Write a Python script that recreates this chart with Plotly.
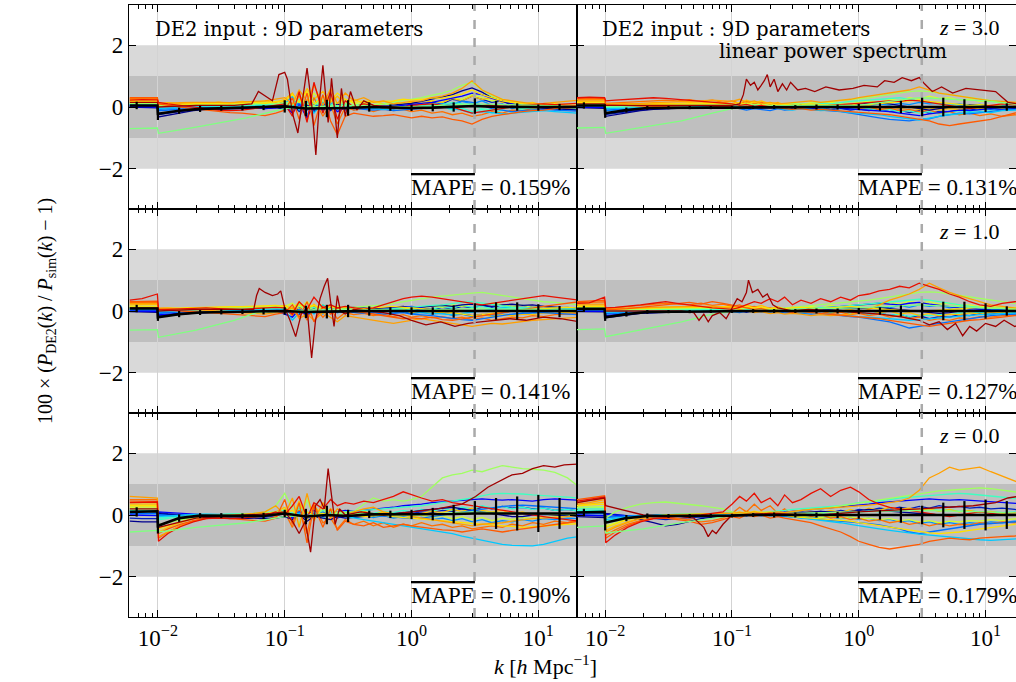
import plotly.graph_objects as go

# ------------------------------------------------------------------ data
# common k grid for the ordinary simulation curves  [h/Mpc]
K = [0.006, 0.0075, 0.0099, 0.0101, 0.012, 0.015, 0.019, 0.024, 0.03, 0.037,
     0.046, 0.057, 0.07, 0.085, 0.1, 0.115, 0.13, 0.15, 0.17, 0.2,
     0.23, 0.26, 0.3, 0.35, 0.42, 0.5, 0.6, 0.72, 0.86, 1.0,
     1.2, 1.45, 1.75, 2.1, 2.5, 3.0, 3.6, 4.3, 5.2, 6.2,
     7.5, 9.0, 11.0, 13.5, 17.0, 21.0]

# k of the mean curve / error bars
MEAN_K = [0.006, 0.0068, 0.0099, 0.01, 0.0147, 0.0215, 0.0316, 0.0464, 0.0681,
          0.1, 0.147, 0.215, 0.316, 0.464, 0.681, 1.0, 1.47, 2.15, 3.16,
          4.64, 6.81, 10.0, 14.7, 21.5]

K_CUT = 3.14  # dashed vertical line

# ---------------- top-left (z = 3.0)
TL_LINES = [
    [0.00, -0.02, -0.03, -0.32, -0.26, -0.18, -0.12, -0.08, -0.06, -0.05,
     -0.04, -0.03, -0.04, -0.02, -0.06, 0.05, -0.12, 0.08, -0.15, 0.06,
     -0.08, 0.10, -0.05, 0.02, -0.03, 0.00, 0.03, 0.05, 0.08, 0.12,
     0.18, 0.25, 0.32, 0.40, 0.52, 0.62, 0.48, 0.30, 0.18, 0.10,
     0.04, 0.00, -0.04, -0.06, -0.08, -0.10],
    [0.02, 0.01, 0.00, -0.22, -0.18, -0.12, -0.08, -0.05, -0.04, -0.03,
     -0.03, -0.02, -0.05, -0.03, 0.04, -0.20, 0.10, -0.35, 0.12, -0.10,
     0.08, -0.15, -0.02, -0.05, -0.02, 0.02, 0.04, 0.02, 0.06, 0.08,
     0.12, 0.15, 0.22, 0.30, 0.35, 0.45, 0.40, 0.28, 0.20, 0.12,
     0.08, 0.05, 0.02, 0.00, 0.03, 0.05],
    [0.05, 0.06, 0.05, -0.12, -0.10, -0.06, -0.03, -0.02, -0.02, -0.01,
     0.00, 0.01, 0.00, 0.02, 0.05, -0.08, 0.12, -0.10, 0.05, 0.08,
     -0.06, 0.04, 0.00, -0.04, -0.08, -0.10, -0.08, -0.12, -0.10, -0.08,
     -0.05, -0.02, 0.05, 0.10, 0.20, 0.15, 0.05, -0.05, -0.10, -0.15,
     -0.12, -0.10, -0.08, -0.10, -0.12, -0.14],
    [0.08, 0.08, 0.07, -0.05, -0.03, 0.00, 0.02, 0.02, 0.01, 0.00,
     0.02, 0.04, 0.02, 0.05, 0.10, 0.35, -0.10, 0.20, -0.20, 0.15,
     0.05, -0.05, 0.10, 0.02, -0.02, -0.05, -0.08, -0.06, -0.04, -0.02,
     0.00, 0.05, 0.02, -0.05, -0.10, -0.20, -0.15, -0.18, -0.22, -0.20,
     -0.18, -0.15, -0.12, -0.15, -0.18, -0.20],
    [0.10, 0.10, 0.10, 0.02, 0.03, 0.04, 0.05, 0.04, 0.03, 0.04,
     0.05, 0.06, 0.08, 0.10, 0.12, 0.05, 0.18, -0.05, 0.15, 0.00,
     0.10, 0.02, 0.05, 0.00, 0.02, 0.04, 0.00, -0.04, -0.02, 0.00,
     0.05, 0.10, 0.08, 0.15, 0.10, 0.05, -0.05, -0.10, -0.05, 0.00,
     -0.05, -0.02, 0.00, 0.02, 0.00, -0.02],
    [0.12, 0.13, 0.12, 0.05, 0.06, 0.07, 0.08, 0.08, 0.07, 0.06,
     0.08, 0.10, 0.12, 0.10, 0.15, 0.08, 0.20, 0.10, 0.05, 0.25,
     0.00, 0.15, 0.10, 0.05, 0.08, 0.05, 0.10, 0.15, 0.20, 0.25,
     0.30, 0.38, 0.45, 0.55, 0.70, 0.80, 0.55, 0.35, 0.25, 0.15,
     0.10, 0.08, 0.05, 0.02, 0.00, -0.05],
    [0.18, 0.18, 0.17, 0.08, 0.08, 0.10, 0.10, 0.12, 0.10, 0.12,
     0.14, 0.15, 0.12, 0.18, 0.20, 0.40, 0.15, 0.50, 0.10, 0.35,
     0.20, 0.45, 0.25, 0.15, 0.20, 0.15, 0.18, 0.20, 0.25, 0.22,
     0.25, 0.30, 0.28, 0.35, 0.42, 0.55, 0.40, 0.30, 0.20, 0.15,
     0.10, 0.12, 0.08, 0.10, 0.08, 0.05],
    [0.25, 0.26, 0.25, 0.12, 0.12, 0.14, 0.15, 0.16, 0.15, 0.14,
     0.15, 0.18, 0.20, 0.25, 0.30, 0.10, 0.55, 0.20, 0.70, 0.05,
     0.60, 0.10, 0.45, 0.20, 0.30, 0.15, 0.20, 0.10, 0.15, 0.18,
     0.20, 0.30, 0.35, 0.45, 0.60, 0.85, 0.55, 0.40, 0.25, 0.20,
     0.15, 0.10, 0.12, 0.15, 0.20, 0.22],
    [0.30, 0.31, 0.30, 0.10, 0.05, 0.00, -0.05, -0.10, -0.15, -0.18,
     -0.20, -0.25, -0.28, -0.20, -0.10, 0.30, -0.40, 0.45, -0.60, 0.40,
     -0.45, -0.90, -0.30, -0.20, -0.25, -0.30, -0.28, -0.25, -0.30, -0.35,
     -0.30, -0.35, -0.32, -0.40, -0.45, -0.55, -0.40, -0.30, -0.25, -0.20,
     -0.15, -0.12, -0.10, -0.05, 0.00, 0.05],
    [0.22, 0.24, 0.23, 0.15, 0.10, 0.05, 0.00, -0.05, -0.10, -0.12,
     -0.10, -0.05, 0.00, 0.05, 0.10, -0.30, 0.50, -0.50, 0.80, -0.20,
     0.50, -0.40, 0.20, 0.00, 0.10, 0.05, 0.00, -0.05, 0.00, 0.05,
     0.08, 0.10, 0.05, 0.00, -0.10, -0.20, -0.15, -0.10, -0.05, 0.00,
     0.05, 0.08, 0.10, 0.08, 0.10, 0.12],
]
TL_EXTRA = [
    [0.03, 0.02, 0.02, -0.25, -0.20, -0.14, -0.10, -0.06, -0.08, -0.04,
     -0.06, -0.02, -0.05, 0.00, -0.08, 0.10, -0.15, 0.12, -0.10, 0.15,
     -0.12, 0.05, -0.10, 0.02, -0.06, 0.03, -0.04, 0.06, 0.00, 0.10,
     0.05, 0.15, 0.10, 0.25, 0.20, 0.35, 0.25, 0.15, 0.20, 0.05,
     0.10, -0.02, 0.05, -0.05, 0.02, -0.04],
    [0.06, 0.05, 0.06, -0.08, -0.05, -0.07, -0.02, -0.04, 0.00, -0.03,
     0.02, -0.02, 0.03, -0.01, 0.08, -0.15, 0.20, -0.25, 0.10, -0.12,
     0.15, -0.08, 0.06, -0.10, 0.00, -0.06, 0.04, -0.08, 0.02, -0.05,
     0.05, -0.02, 0.12, 0.05, 0.18, 0.10, 0.20, 0.05, 0.10, -0.05,
     0.02, -0.06, 0.00, -0.08, -0.02, -0.06],
    [0.09, 0.10, 0.08, -0.02, 0.02, -0.01, 0.04, 0.01, 0.05, 0.02,
     0.06, 0.03, 0.08, 0.04, 0.15, 0.00, 0.25, 0.05, 0.30, -0.05,
     0.20, 0.00, 0.12, 0.04, 0.10, 0.02, 0.08, 0.00, 0.06, -0.04,
     0.04, -0.06, 0.02, -0.10, -0.04, -0.15, -0.08, -0.20, -0.10, -0.15,
     -0.05, -0.10, 0.00, -0.06, 0.02, -0.04],
    [0.15, 0.14, 0.15, 0.06, 0.10, 0.05, 0.10, 0.06, 0.12, 0.08,
     0.12, 0.08, 0.15, 0.10, 0.22, 0.05, 0.35, 0.10, 0.45, 0.15,
     0.30, 0.05, 0.25, 0.10, 0.15, 0.08, 0.12, 0.05, 0.10, 0.15,
     0.10, 0.20, 0.15, 0.30, 0.25, 0.40, 0.30, 0.20, 0.25, 0.10,
     0.15, 0.05, 0.10, 0.02, 0.06, 0.00],
    [0.20, 0.21, 0.20, 0.10, 0.14, 0.09, 0.13, 0.10, 0.16, 0.12,
     0.18, 0.14, 0.20, 0.15, 0.25, 0.45, 0.10, 0.60, 0.25, 0.50,
     0.15, 0.35, 0.10, 0.25, 0.12, 0.20, 0.10, 0.18, 0.08, 0.15,
     0.12, 0.20, 0.15, 0.28, 0.20, 0.35, 0.25, 0.30, 0.15, 0.20,
     0.10, 0.15, 0.05, 0.10, 0.02, 0.06],
    [0.28, 0.28, 0.27, 0.12, 0.08, 0.10, 0.05, 0.08, 0.02, 0.05,
     0.00, 0.04, -0.02, 0.05, 0.20, -0.20, 0.40, -0.45, 0.30, -0.30,
     0.10, -0.55, 0.00, -0.10, -0.05, -0.15, -0.05, -0.12, -0.08, -0.15,
     -0.10, -0.20, -0.15, -0.25, -0.20, -0.30, -0.25, -0.15, -0.20, -0.10,
     -0.12, -0.05, -0.08, 0.00, -0.04, 0.02],
]
TL_GREEN_K = [0.006, 0.0099, 0.0101, 0.02, 0.05, 0.1, 0.15, 0.3, 1.0, 3.0, 10.0, 21.0]
TL_GREEN = [-0.70, -0.68, -0.85, -0.65, -0.35, -0.05, 0.00, 0.05, 0.00, 0.10, 0.05, 0.00]
TL_DRED_K = [0.006, 0.0099, 0.0101, 0.02, 0.04, 0.055, 0.062, 0.07, 0.08, 0.09,
             0.1, 0.105, 0.115, 0.127, 0.138, 0.15, 0.163, 0.176, 0.188, 0.2,
             0.21, 0.22, 0.234, 0.247, 0.26, 0.28, 0.3, 0.33, 0.37, 0.42,
             0.5, 0.7, 1.0, 2.0, 4.0, 8.0, 21.0]
TL_DRED = [0.15, 0.15, 0.00, 0.05, 0.05, 0.10, 0.50, 0.35, 0.20, 1.05,
           1.12, 0.90, -0.20, -0.84, 0.20, 1.26, 0.10, -1.55, 0.20, 1.35,
           0.40, -0.50, 0.93, -0.20, -1.00, 0.60, -0.30, 0.50, -0.10, 0.20,
           0.05, 0.00, -0.05, 0.00, 0.05, 0.00, 0.02]
TL_MEAN = [0.05, 0.05, 0.05, -0.22, -0.12, -0.06, -0.04, -0.03, -0.02, 0.02,
           -0.05, -0.05, -0.03, 0.00, -0.02, -0.03, -0.02, 0.00, 0.03, 0.00,
           0.00, -0.02, 0.00, 0.00]
TL_SD = [0.0, 0.12, 0.0, 0.20, 0.10, 0.10, 0.08, 0.08, 0.08, 0.20,
         0.25, 0.28, 0.25, 0.15, 0.10, 0.10, 0.12, 0.15, 0.25, 0.20,
         0.12, 0.10, 0.10, 0.10]

# ---------------- middle-left (z = 1.0)
ML_LINES = [
    [-0.02, -0.03, -0.04, -0.18, -0.15, -0.10, -0.07, -0.05, -0.04, -0.03,
     -0.02, -0.02, -0.03, -0.02, -0.05, 0.05, -0.10, 0.08, -0.05, 0.10,
     0.05, 0.08, 0.10, 0.12, 0.10, 0.08, 0.10, 0.12, 0.15, 0.10,
     0.12, 0.15, 0.18, 0.15, 0.20, 0.22, 0.18, 0.15, 0.20, 0.22,
     0.18, 0.20, 0.15, 0.12, 0.10, 0.10],
    [0.00, 0.00, -0.01, -0.12, -0.10, -0.07, -0.05, -0.03, -0.02, -0.02,
     -0.01, 0.00, -0.02, 0.00, -0.10, -0.20, 0.05, -0.15, 0.10, -0.05,
     0.10, 0.00, -0.05, 0.05, 0.02, -0.02, 0.05, 0.10, 0.12, 0.15,
     0.10, 0.05, 0.00, -0.05, -0.10, -0.15, -0.12, -0.10, -0.05, 0.00,
     0.05, 0.08, 0.05, 0.02, 0.00, -0.02],
    [0.04, 0.05, 0.04, -0.08, -0.05, -0.03, -0.01, 0.00, 0.00, 0.01,
     0.02, 0.02, 0.01, 0.03, 0.00, -0.05, 0.05, -0.08, 0.00, 0.08,
     -0.05, 0.02, -0.02, -0.05, -0.08, -0.05, -0.10, -0.08, -0.05, -0.10,
     -0.12, -0.15, -0.20, -0.25, -0.28, -0.30, -0.25, -0.20, -0.15, -0.10,
     -0.08, -0.05, -0.05, -0.08, -0.10, -0.12],
    [0.07, 0.07, 0.06, -0.02, 0.00, 0.02, 0.03, 0.03, 0.02, 0.02,
     0.03, 0.04, 0.05, 0.08, 0.02, -0.30, -0.05, 0.15, -0.10, 0.20,
     0.00, 0.10, 0.05, 0.00, -0.02, 0.00, 0.03, 0.05, 0.02, 0.00,
     -0.05, -0.08, -0.10, -0.12, -0.08, -0.05, 0.00, 0.05, 0.10, 0.12,
     0.10, 0.08, 0.05, 0.05, 0.08, 0.10],
    [0.10, 0.10, 0.09, 0.02, 0.03, 0.04, 0.05, 0.05, 0.05, 0.06,
     0.06, 0.07, 0.08, 0.08, 0.10, 0.00, 0.20, 0.05, 0.12, -0.05,
     0.08, 0.02, 0.05, 0.03, 0.00, 0.02, 0.05, 0.08, 0.10, 0.12,
     0.15, 0.18, 0.20, 0.25, 0.28, 0.30, 0.25, 0.20, 0.15, 0.12,
     0.10, 0.08, 0.06, 0.05, 0.05, 0.04],
    [0.14, 0.14, 0.13, 0.05, 0.06, 0.07, 0.08, 0.09, 0.10, 0.10,
     0.10, 0.12, 0.12, 0.15, 0.12, 0.05, 0.15, 0.10, 0.05, 0.10,
     0.05, 0.08, 0.10, 0.12, 0.15, 0.18, 0.20, 0.25, 0.30, 0.35,
     0.40, 0.45, 0.48, 0.52, 0.55, 0.58, 0.60, 0.55, 0.50, 0.45,
     0.40, 0.35, 0.30, 0.28, 0.25, 0.20],
    [0.16, 0.16, 0.16, 0.08, 0.09, 0.10, 0.12, 0.12, 0.13, 0.14,
     0.14, 0.15, 0.16, 0.18, 0.15, 0.10, 0.20, 0.12, 0.18, 0.08,
     0.15, 0.10, 0.12, 0.10, 0.08, 0.10, 0.12, 0.15, 0.12, 0.10,
     0.08, 0.05, 0.00, -0.05, -0.10, -0.15, -0.12, -0.08, -0.05, 0.00,
     0.02, 0.05, 0.08, 0.10, 0.12, 0.10],
    [0.24, 0.25, 0.24, 0.10, 0.08, 0.06, 0.04, 0.02, 0.00, -0.02,
     -0.05, -0.08, -0.10, -0.05, 0.00, 0.10, -0.25, -0.10, -0.30, -0.05,
     -0.20, -0.35, -0.15, -0.20, -0.25, -0.30, -0.35, -0.40, -0.35, -0.30,
     -0.25, -0.30, -0.35, -0.40, -0.45, -0.50, -0.45, -0.40, -0.42, -0.38,
     -0.35, -0.30, -0.28, -0.25, -0.22, -0.20],
    [0.30, 0.31, 0.32, 0.05, 0.02, 0.00, -0.02, -0.05, -0.08, -0.10,
     -0.12, -0.15, -0.18, -0.10, -0.05, 0.20, -0.20, 0.30, -0.35, 0.15,
     -0.10, 0.10, -0.05, 0.00, -0.05, -0.10, -0.15, -0.20, -0.25, -0.22,
     -0.25, -0.20, -0.28, -0.30, -0.25, -0.20, -0.15, -0.10, -0.05, 0.00,
     0.05, 0.10, 0.15, 0.20, 0.25, 0.30],
    [0.35, 0.40, 0.55, 0.05, 0.05, 0.06, 0.08, 0.10, 0.08, 0.06,
     0.05, 0.08, 0.10, 0.12, 0.10, -0.10, 0.30, 0.05, 0.45, 0.10,
     0.20, 0.10, 0.15, 0.10, 0.05, 0.10, 0.20, 0.30, 0.40, 0.45,
     0.48, 0.45, 0.40, 0.35, 0.30, 0.25, 0.20, 0.25, 0.30, 0.35,
     0.40, 0.45, 0.50, 0.45, 0.40, 0.35],
]
ML_EXTRA = [
    [0.02, 0.01, 0.02, -0.15, -0.12, -0.09, -0.06, -0.05, -0.02, -0.03,
     0.00, -0.02, 0.01, -0.03, 0.05, -0.12, 0.10, -0.08, 0.12, -0.06,
     0.08, -0.04, 0.06, 0.00, 0.05, -0.02, 0.04, 0.00, 0.06, 0.02,
     0.08, 0.04, 0.12, 0.06, 0.15, 0.10, 0.18, 0.12, 0.20, 0.15,
     0.18, 0.12, 0.15, 0.10, 0.12, 0.08],
    [0.06, 0.05, 0.06, -0.05, -0.04, -0.02, -0.03, 0.00, -0.02, 0.01,
     -0.01, 0.02, 0.00, 0.03, 0.08, -0.05, 0.15, -0.20, 0.05, -0.10,
     0.06, -0.06, 0.02, -0.04, 0.00, -0.05, 0.02, -0.06, -0.02, -0.08,
     -0.04, -0.10, -0.06, -0.14, -0.10, -0.18, -0.12, -0.16, -0.10, -0.12,
     -0.06, -0.10, -0.04, -0.08, -0.02, -0.06],
    [0.09, 0.09, 0.08, 0.00, 0.02, 0.03, 0.02, 0.05, 0.03, 0.06,
     0.04, 0.07, 0.05, 0.09, 0.12, 0.02, 0.25, 0.06, 0.18, 0.00,
     0.10, 0.04, 0.08, 0.02, 0.06, 0.00, 0.05, 0.02, 0.08, 0.04,
     0.10, 0.06, 0.14, 0.10, 0.18, 0.12, 0.15, 0.08, 0.10, 0.05,
     0.06, 0.02, 0.05, 0.00, 0.03, -0.02],
    [0.13, 0.12, 0.12, 0.04, 0.07, 0.06, 0.09, 0.07, 0.10, 0.09,
     0.11, 0.09, 0.13, 0.10, 0.15, 0.25, 0.05, 0.30, 0.10, 0.20,
     0.05, 0.15, 0.08, 0.12, 0.06, 0.10, 0.05, 0.10, 0.06, 0.12,
     0.10, 0.16, 0.12, 0.20, 0.15, 0.22, 0.18, 0.25, 0.20, 0.15,
     0.18, 0.12, 0.15, 0.10, 0.12, 0.08],
    [0.20, 0.21, 0.22, 0.08, 0.10, 0.08, 0.11, 0.09, 0.12, 0.10,
     0.13, 0.10, 0.14, 0.12, 0.18, 0.05, 0.30, 0.00, 0.22, -0.05,
     0.15, 0.00, 0.10, 0.02, 0.08, 0.00, 0.05, -0.02, 0.04, -0.05,
     0.00, -0.08, -0.04, -0.12, -0.08, -0.15, -0.10, -0.18, -0.12, -0.15,
     -0.10, -0.12, -0.06, -0.08, -0.04, -0.06],
    [0.27, 0.28, 0.28, 0.06, 0.03, 0.05, 0.00, 0.02, -0.03, 0.00,
     -0.05, -0.02, -0.06, 0.00, 0.10, -0.15, 0.20, -0.30, 0.15, -0.20,
     0.05, -0.25, -0.05, -0.12, -0.08, -0.15, -0.10, -0.18, -0.12, -0.20,
     -0.15, -0.22, -0.18, -0.25, -0.20, -0.28, -0.22, -0.30, -0.25, -0.20,
     -0.22, -0.15, -0.18, -0.12, -0.10, -0.08],
]
ML_GREEN_K = [0.006, 0.0099, 0.0101, 0.02, 0.04, 0.06, 0.1, 0.3, 1.0, 3.0, 10.0, 21.0]
ML_GREEN = [-0.62, -0.60, -0.85, -0.62, -0.30, -0.05, 0.00, 0.05, 0.02, 0.08, 0.05, 0.00]
ML_DRED_K = [0.006, 0.0099, 0.0101, 0.02, 0.04, 0.057, 0.06, 0.063, 0.07, 0.08,
             0.088, 0.093, 0.1, 0.11, 0.122, 0.135, 0.15, 0.163, 0.175, 0.19,
             0.205, 0.218, 0.23, 0.245, 0.26, 0.275, 0.3, 0.35, 0.45, 0.6,
             0.8, 1.0, 1.3, 1.7, 2.2, 2.8, 3.5, 4.5, 6.0, 8.0,
             11.0, 15.0, 21.0]
ML_DRED = [0.10, 0.10, 0.00, 0.05, 0.05, 0.05, 0.50, 0.73, 0.60, 0.50,
           0.55, 0.65, 0.10, -0.30, -0.83, -0.10, 0.10, -1.52, -0.30, 0.40,
           0.80, 1.06, 0.30, -0.50, 0.50, 0.00, -0.10, 0.05, 0.00, -0.05,
           -0.15, -0.30, -0.45, -0.35, -0.50, -0.40, -0.35, -0.30, -0.25, -0.30,
           -0.20, -0.25, -0.35]
ML_MEAN = [0.08, 0.08, 0.08, -0.20, -0.10, -0.05, -0.03, -0.02, -0.01, 0.00,
           -0.03, -0.02, 0.00, 0.00, 0.00, 0.00, 0.00, -0.02, 0.00, 0.00,
           0.00, 0.00, -0.02, 0.00]
ML_SD = [0.0, 0.12, 0.0, 0.12, 0.10, 0.08, 0.08, 0.08, 0.10, 0.12,
         0.20, 0.22, 0.20, 0.15, 0.12, 0.12, 0.12, 0.20, 0.25, 0.28,
         0.28, 0.22, 0.18, 0.12]

# ---------------- bottom-left (z = 0.0)
BL_LINES = [
    [-0.20, -0.22, -0.22, 0.05, 0.02, -0.02, -0.05, -0.08, -0.10, -0.12,
     -0.12, -0.10, -0.12, -0.10, -0.05, -0.15, 0.00, -0.20, -0.05, -0.10,
     -0.15, -0.05, -0.10, -0.08, -0.05, 0.00, 0.02, 0.05, 0.08, 0.10,
     0.15, 0.18, 0.22, 0.25, 0.20, 0.15, 0.10, 0.05, 0.00, -0.05,
     -0.05, 0.00, 0.02, 0.00, -0.02, -0.05],
    [0.00, 0.00, -0.02, 0.10, 0.08, 0.05, 0.02, 0.00, -0.02, -0.03,
     -0.02, 0.00, 0.02, 0.00, 0.05, -0.10, 0.10, 0.00, 0.15, -0.05,
     0.05, 0.10, 0.15, 0.12, 0.15, 0.18, 0.20, 0.25, 0.30, 0.32,
     0.35, 0.40, 0.42, 0.45, 0.48, 0.50, 0.52, 0.50, 0.48, 0.50,
     0.48, 0.45, 0.50, 0.52, 0.50, 0.48],
    [0.05, 0.06, 0.05, 0.00, -0.02, -0.03, -0.05, -0.05, -0.04, -0.03,
     -0.02, -0.03, -0.05, 0.00, 0.05, -0.05, 0.10, -0.10, 0.05, 0.10,
     -0.05, 0.05, 0.00, 0.05, 0.02, 0.00, -0.05, -0.08, -0.10, -0.12,
     -0.10, -0.05, 0.00, 0.05, 0.10, 0.15, 0.20, 0.25, 0.28, 0.30,
     0.32, 0.30, 0.28, 0.25, 0.22, 0.20],
    [0.10, 0.10, 0.10, -0.05, -0.03, 0.00, 0.02, 0.03, 0.02, 0.00,
     0.00, 0.02, 0.05, 0.08, 0.10, 0.00, 0.05, -0.05, 0.10, 0.00,
     0.05, 0.00, -0.05, -0.10, -0.15, -0.20, -0.25, -0.30, -0.35, -0.40,
     -0.45, -0.50, -0.55, -0.60, -0.68, -0.75, -0.82, -0.90, -0.95, -0.98,
     -1.00, -1.00, -0.95, -0.85, -0.75, -0.70],
    [0.15, 0.15, 0.14, -0.15, -0.10, -0.05, -0.02, 0.00, 0.02, 0.03,
     0.04, 0.05, 0.08, 0.10, 0.15, 0.05, 0.20, 0.10, 0.00, 0.15,
     0.10, 0.05, 0.10, 0.12, 0.15, 0.18, 0.20, 0.22, 0.25, 0.28,
     0.30, 0.35, 0.40, 0.45, 0.50, 0.55, 0.62, 0.68, 0.70, 0.70,
     0.68, 0.65, 0.62, 0.60, 0.58, 0.55],
    [0.20, 0.20, 0.20, -0.30, -0.25, -0.15, -0.10, -0.05, -0.02, 0.00,
     0.02, 0.05, 0.10, 0.30, 0.70, 0.20, -0.30, 0.50, -0.10, 0.20,
     0.00, 0.10, 0.05, 0.10, 0.35, 0.55, 0.45, 0.50, 0.45, 0.50,
     0.60, 0.90, 1.20, 1.30, 1.35, 1.45, 1.40, 1.50, 1.60, 1.55,
     1.50, 1.48, 1.45, 1.38, 1.20, 0.90],
    [0.30, 0.30, 0.30, -0.45, -0.35, -0.22, -0.12, -0.06, -0.03, -0.02,
     0.00, 0.02, 0.05, 0.10, 0.05, 0.15, -0.05, 0.10, 0.00, 0.05,
     0.00, 0.05, 0.02, 0.00, -0.05, -0.02, 0.00, -0.05, -0.08, -0.10,
     -0.12, -0.15, -0.18, -0.22, -0.25, -0.28, -0.30, -0.32, -0.35, -0.38,
     -0.40, -0.38, -0.35, -0.32, -0.30, -0.28],
    [0.60, 0.58, 0.55, -0.70, -0.55, -0.35, -0.20, -0.10, -0.05, -0.02,
     0.00, 0.05, 0.10, 0.30, 0.00, 0.55, -0.40, 0.70, -0.20, 0.40,
     -0.10, 0.20, 0.05, 0.10, 0.20, 0.25, 0.10, 0.05, 0.00, -0.05,
     -0.10, -0.15, -0.20, -0.25, -0.30, -0.35, -0.30, -0.28, -0.25, -0.20,
     -0.15, -0.12, -0.10, -0.08, -0.05, 0.00],
    [0.45, 0.45, 0.44, -0.60, -0.45, -0.30, -0.18, -0.10, -0.08, -0.12,
     -0.15, -0.18, -0.20, -0.10, 0.50, -0.30, 0.40, -0.90, 0.30, -0.40,
     0.20, -0.50, -0.20, -0.30, -0.35, -0.25, -0.40, -0.35, -0.30, -0.35,
     -0.40, -0.45, -0.48, -0.50, -0.55, -0.50, -0.45, -0.50, -0.55, -0.50,
     -0.45, -0.40, -0.35, -0.30, -0.25, -0.20],
    [0.40, 0.40, 0.42, -0.85, -0.60, -0.38, -0.22, -0.12, -0.10, -0.12,
     -0.10, -0.05, 0.00, 0.10, 0.00, 0.30, 0.60, -0.10, 0.40, 0.20,
     0.50, 0.30, 0.40, 0.35, 0.45, 0.40, 0.50, 0.60, 0.75, 0.65,
     0.55, 0.45, 0.50, 0.40, 0.35, 0.30, 0.25, 0.20, 0.15, 0.10,
     0.05, 0.00, -0.05, -0.10, -0.15, -0.20],
]
BL_EXTRA = [
    [-0.10, -0.12, -0.12, 0.08, 0.04, 0.00, -0.02, -0.04, -0.06, -0.05,
     -0.08, -0.04, -0.07, -0.02, 0.05, -0.10, 0.10, -0.15, 0.08, -0.08,
     0.05, -0.10, 0.00, -0.06, 0.02, -0.04, 0.05, 0.00, 0.08, 0.05,
     0.10, 0.08, 0.15, 0.12, 0.20, 0.15, 0.25, 0.20, 0.28, 0.22,
     0.25, 0.20, 0.22, 0.15, 0.18, 0.12],
    [0.04, 0.05, 0.04, 0.02, 0.00, -0.02, -0.01, -0.03, 0.00, -0.02,
     0.01, -0.01, 0.03, 0.00, 0.10, -0.08, 0.20, -0.15, 0.12, -0.05,
     0.08, -0.08, 0.04, -0.05, 0.00, -0.08, -0.02, -0.10, -0.05, -0.12,
     -0.08, -0.15, -0.10, -0.18, -0.12, -0.22, -0.15, -0.25, -0.18, -0.22,
     -0.15, -0.20, -0.12, -0.15, -0.10, -0.12],
    [0.12, 0.12, 0.12, -0.10, -0.06, -0.03, 0.00, 0.02, 0.00, 0.03,
     0.02, 0.05, 0.03, 0.08, 0.15, 0.00, 0.30, 0.05, 0.20, -0.10,
     0.10, 0.00, 0.08, 0.02, 0.10, 0.05, 0.12, 0.08, 0.15, 0.10,
     0.18, 0.12, 0.22, 0.15, 0.25, 0.20, 0.30, 0.22, 0.28, 0.20,
     0.25, 0.18, 0.22, 0.15, 0.18, 0.12],
    [0.25, 0.25, 0.26, -0.35, -0.25, -0.15, -0.08, -0.04, 0.00, -0.02,
     0.02, 0.00, 0.05, 0.02, 0.20, -0.05, 0.40, 0.00, 0.25, 0.05,
     0.15, 0.00, 0.10, 0.02, 0.08, 0.00, 0.05, -0.03, 0.02, -0.05,
     0.00, -0.08, -0.02, -0.12, -0.05, -0.15, -0.08, -0.18, -0.10, -0.15,
     -0.08, -0.12, -0.05, -0.08, -0.02, -0.05],
    [0.35, 0.35, 0.36, -0.55, -0.40, -0.25, -0.12, -0.05, -0.02, 0.00,
     0.03, 0.00, 0.06, 0.10, 0.25, -0.10, 0.45, -0.20, 0.30, -0.05,
     0.20, 0.05, 0.15, 0.05, 0.12, 0.02, 0.10, 0.00, 0.08, 0.02,
     0.05, 0.12, 0.08, 0.18, 0.12, 0.22, 0.15, 0.10, 0.15, 0.05,
     0.10, 0.02, 0.05, -0.02, 0.02, -0.04],
    [0.50, 0.50, 0.50, -0.75, -0.55, -0.35, -0.20, -0.12, -0.08, -0.10,
     -0.12, -0.08, -0.15, -0.05, 0.10, -0.40, 0.20, -0.60, 0.35, -0.25,
     -0.10, -0.45, -0.15, -0.30, -0.20, -0.35, -0.25, -0.40, -0.30, -0.35,
     -0.25, -0.35, -0.30, -0.40, -0.35, -0.45, -0.40, -0.35, -0.40, -0.30,
     -0.35, -0.25, -0.30, -0.20, -0.25, -0.15],
]
BL_GREEN_K = [0.006, 0.0099, 0.0101, 0.02, 0.05, 0.1, 0.3, 1.0, 3.0, 10.0, 21.0]
BL_GREEN = [-0.55, -0.50, -0.55, -0.40, -0.25, -0.05, 0.05, 0.00, 0.10, 0.05, 0.00]
BL_DRED_K = [0.006, 0.0099, 0.0101, 0.02, 0.05, 0.08, 0.1, 0.115, 0.13, 0.145,
             0.16, 0.175, 0.19, 0.205, 0.22, 0.235, 0.25, 0.27, 0.3, 0.4,
             0.6, 1.0, 1.6, 2.5, 3.2, 4.0, 5.0, 6.2, 7.5, 9.0,
             11.0, 13.5, 16.0, 21.0]
BL_DRED = [0.20, 0.20, -0.40, -0.10, 0.00, 0.05, 0.10, -0.20, -0.60, -0.20,
           -1.20, 0.30, 0.50, 0.20, 1.50, 0.50, -0.30, 0.20, 0.00, 0.10,
           0.00, 0.10, 0.20, 0.35, 0.60, 0.90, 1.10, 1.30, 1.35, 1.50,
           1.60, 1.55, 1.62, 1.65]
BL_MEAN = [0.10, 0.10, 0.12, -0.35, -0.10, -0.02, -0.02, -0.03, -0.03, 0.05,
           -0.05, 0.00, -0.03, 0.02, 0.02, 0.02, 0.03, 0.03, 0.05, 0.05,
           0.05, 0.05, 0.05, 0.05]
BL_SD = [0.0, 0.15, 0.0, 0.25, 0.12, 0.08, 0.08, 0.08, 0.10, 0.12,
         0.25, 0.30, 0.20, 0.12, 0.12, 0.15, 0.20, 0.30, 0.40, 0.50,
         0.55, 0.60, 0.50, 0.40]

# ---------------- top-right (linear, z = 3.0)
TR_LINES = [
    [-0.02, -0.03, -0.04, -0.30, -0.25, -0.18, -0.12, -0.08, -0.05, -0.04,
     -0.03, -0.02, -0.02, -0.02, -0.03, -0.02, -0.04, -0.02, -0.03, -0.02,
     -0.04, -0.02, 0.00, 0.02, 0.00, -0.02, 0.00, 0.05, 0.08, 0.10,
     0.12, 0.15, 0.10, 0.05, 0.00, -0.05, -0.10, -0.05, 0.00, 0.05,
     0.08, 0.05, 0.02, 0.00, 0.02, 0.00],
    [0.00, 0.00, -0.01, -0.20, -0.16, -0.11, -0.07, -0.04, -0.03, -0.02,
     -0.02, -0.01, -0.02, 0.00, -0.02, 0.02, -0.03, 0.00, 0.03, -0.02,
     0.00, -0.05, 0.02, -0.03, -0.05, -0.02, 0.00, -0.04, -0.06, -0.08,
     -0.10, -0.12, -0.15, -0.20, -0.25, -0.28, -0.22, -0.18, -0.15, -0.10,
     -0.12, -0.08, -0.05, -0.08, -0.05, -0.03],
    [0.03, 0.03, 0.02, -0.10, -0.08, -0.05, -0.03, -0.02, -0.01, -0.01,
     0.00, 0.00, -0.01, 0.01, 0.00, -0.05, -0.10, -0.05, -0.08, -0.12,
     -0.05, -0.10, -0.08, -0.05, -0.08, -0.10, -0.12, -0.15, -0.20, -0.25,
     -0.30, -0.35, -0.40, -0.42, -0.45, -0.40, -0.38, -0.30, -0.25, -0.20,
     -0.22, -0.18, -0.15, -0.10, -0.08, -0.05],
    [0.05, 0.05, 0.04, -0.05, -0.04, -0.02, -0.01, 0.00, 0.00, 0.01,
     0.01, 0.02, 0.02, 0.01, 0.00, 0.05, -0.02, 0.03, 0.05, 0.00,
     -0.05, -0.08, -0.10, -0.05, -0.08, -0.12, -0.10, -0.15, -0.18, -0.20,
     -0.22, -0.25, -0.30, -0.35, -0.38, -0.42, -0.35, -0.30, -0.25, -0.22,
     -0.20, -0.15, -0.18, -0.12, -0.10, -0.08],
    [0.07, 0.07, 0.06, 0.00, 0.01, 0.02, 0.03, 0.03, 0.03, 0.04,
     0.04, 0.04, 0.05, 0.05, 0.04, 0.00, 0.08, 0.02, 0.06, 0.00,
     0.05, 0.08, 0.05, 0.10, 0.08, 0.12, 0.10, 0.15, 0.18, 0.20,
     0.22, 0.25, 0.28, 0.30, 0.25, 0.20, 0.15, 0.10, 0.05, 0.08,
     0.05, 0.02, 0.00, 0.02, 0.00, -0.02],
    [0.10, 0.10, 0.10, 0.03, 0.04, 0.05, 0.05, 0.06, 0.06, 0.06,
     0.07, 0.07, 0.08, 0.08, 0.10, 0.05, 0.12, 0.08, 0.10, 0.05,
     0.10, 0.08, 0.12, 0.10, 0.12, 0.15, 0.18, 0.20, 0.22, 0.25,
     0.30, 0.35, 0.40, 0.45, 0.50, 0.52, 0.50, 0.45, 0.40, 0.35,
     0.30, 0.25, 0.20, 0.15, 0.10, 0.08],
    [0.14, 0.14, 0.13, 0.05, 0.06, 0.07, 0.08, 0.09, 0.10, 0.10,
     0.10, 0.11, 0.12, 0.12, 0.10, 0.15, 0.08, 0.18, 0.10, 0.12,
     0.08, 0.10, 0.05, 0.08, 0.10, 0.08, 0.05, 0.08, 0.10, 0.05,
     0.08, 0.10, 0.12, 0.15, 0.20, 0.22, 0.18, 0.15, 0.10, 0.08,
     0.05, 0.08, 0.05, 0.03, 0.02, 0.00],
    [0.22, 0.23, 0.22, 0.10, 0.10, 0.11, 0.12, 0.14, 0.15, 0.16,
     0.18, 0.20, 0.22, 0.20, 0.18, 0.25, 0.15, 0.20, 0.10, 0.15,
     0.10, 0.12, 0.15, 0.18, 0.20, 0.15, 0.18, 0.22, 0.25, 0.30,
     0.35, 0.40, 0.45, 0.50, 0.55, 0.65, 0.55, 0.45, 0.40, 0.35,
     0.30, 0.25, 0.20, 0.18, 0.15, 0.12],
    [0.28, 0.29, 0.28, 0.08, 0.06, 0.05, 0.03, 0.02, 0.01, 0.00,
     0.00, -0.02, 0.00, 0.02, 0.00, -0.05, 0.02, -0.03, 0.05, 0.00,
     -0.02, -0.05, -0.08, -0.05, -0.10, -0.08, -0.10, -0.12, -0.15, -0.18,
     -0.20, -0.22, -0.25, -0.30, -0.35, -0.40, -0.45, -0.55, -0.60, -0.55,
     -0.50, -0.45, -0.40, -0.30, -0.20, -0.10],
    [0.30, 0.32, 0.30, 0.20, 0.22, 0.25, 0.28, 0.30, 0.28, 0.25,
     0.22, 0.20, 0.15, 0.12, 0.10, 0.05, 0.08, 0.02, 0.05, 0.00,
     0.03, 0.00, 0.02, 0.05, 0.00, 0.03, 0.05, 0.08, 0.10, 0.12,
     0.15, 0.18, 0.20, 0.18, 0.22, 0.20, 0.15, 0.10, 0.05, 0.00,
     -0.05, 0.00, 0.05, 0.10, 0.08, 0.05],
]
TR_EXTRA = [
    [0.02, 0.01, 0.01, -0.24, -0.20, -0.14, -0.10, -0.06, -0.05, -0.03,
     -0.04, -0.02, -0.03, 0.00, -0.04, 0.02, -0.05, 0.03, -0.02, 0.04,
     -0.03, 0.02, -0.05, 0.00, -0.06, -0.02, -0.08, -0.04, -0.10, -0.06,
     -0.12, -0.08, -0.15, -0.10, -0.18, -0.12, -0.20, -0.14, -0.15, -0.08,
     -0.10, -0.05, -0.08, -0.03, -0.05, -0.02],
    [0.05, 0.04, 0.05, -0.12, -0.09, -0.07, -0.04, -0.03, -0.01, -0.02,
     0.00, -0.01, 0.01, 0.02, 0.00, 0.04, -0.02, 0.05, 0.00, 0.04,
     0.01, 0.05, 0.00, 0.04, -0.02, 0.05, 0.00, 0.06, 0.02, 0.08,
     0.04, 0.10, 0.06, 0.12, 0.08, 0.15, 0.10, 0.12, 0.06, 0.10,
     0.04, 0.08, 0.02, 0.05, 0.00, 0.03],
    [0.08, 0.08, 0.07, -0.02, 0.00, 0.01, 0.02, 0.01, 0.03, 0.02,
     0.04, 0.02, 0.05, 0.03, 0.06, 0.02, 0.08, 0.03, 0.06, 0.01,
     0.05, 0.00, 0.04, -0.02, 0.02, -0.04, 0.00, -0.05, -0.02, -0.08,
     -0.05, -0.12, -0.08, -0.15, -0.12, -0.20, -0.15, -0.22, -0.18, -0.12,
     -0.15, -0.08, -0.10, -0.05, -0.06, -0.02],
    [0.12, 0.12, 0.12, 0.04, 0.05, 0.06, 0.07, 0.06, 0.08, 0.07,
     0.09, 0.07, 0.10, 0.08, 0.12, 0.06, 0.14, 0.08, 0.12, 0.06,
     0.10, 0.06, 0.12, 0.08, 0.14, 0.10, 0.15, 0.12, 0.18, 0.14,
     0.20, 0.15, 0.25, 0.20, 0.30, 0.25, 0.35, 0.28, 0.30, 0.22,
     0.25, 0.18, 0.20, 0.12, 0.15, 0.08],
    [0.18, 0.19, 0.18, 0.07, 0.08, 0.09, 0.10, 0.11, 0.12, 0.12,
     0.14, 0.13, 0.16, 0.14, 0.18, 0.12, 0.22, 0.14, 0.20, 0.10,
     0.15, 0.08, 0.12, 0.06, 0.10, 0.04, 0.08, 0.02, 0.06, 0.00,
     0.04, -0.02, 0.02, -0.05, 0.00, -0.08, -0.02, -0.10, -0.05, -0.08,
     -0.02, -0.06, 0.00, -0.04, 0.02, -0.02],
    [0.25, 0.26, 0.25, 0.12, 0.14, 0.16, 0.18, 0.20, 0.22, 0.20,
     0.24, 0.18, 0.22, 0.15, 0.20, 0.12, 0.18, 0.10, 0.15, 0.08,
     0.12, 0.05, 0.10, 0.02, 0.08, 0.00, 0.05, -0.02, 0.02, -0.05,
     0.00, -0.08, -0.04, -0.12, -0.08, -0.15, -0.10, -0.20, -0.15, -0.25,
     -0.20, -0.28, -0.22, -0.30, -0.25, -0.28],
]
TR_GREEN_K = [0.006, 0.0099, 0.0101, 0.02, 0.04, 0.07, 0.1, 0.15, 0.3, 1.0, 3.0, 10.0, 21.0]
TR_GREEN = [-0.68, -0.66, -0.85, -0.65, -0.45, -0.20, -0.05, 0.00, 0.05, 0.05, 0.30, 0.20, 0.05]
TR_DRED_K = [0.006, 0.0099, 0.0101, 0.02, 0.05, 0.1, 0.115, 0.123, 0.13, 0.14,
             0.15, 0.16, 0.17, 0.18, 0.19, 0.2, 0.215, 0.23, 0.25, 0.27,
             0.29, 0.33, 0.38, 0.45, 0.55, 0.7, 0.9, 1.1, 1.4, 1.6,
             1.9, 2.2, 2.6, 3.0, 3.3, 3.8, 4.5, 5.5, 7.0, 9.0,
             12.0, 15.0, 21.0]
TR_DRED = [0.10, 0.10, 0.05, 0.05, 0.05, 0.05, 0.10, 0.40, 0.90, 0.70,
           0.80, 0.55, 0.70, 0.85, 1.05, 0.65, 0.90, 0.50, 0.75, 0.55,
           0.80, 0.55, 0.60, 0.50, 0.65, 0.55, 0.60, 0.70, 0.65, 0.85,
           0.80, 0.95, 0.85, 0.95, 0.75, 0.50, 0.65, 0.45, 0.60, 0.55,
           0.50, 0.15, 0.05]
TR_MEAN = [0.05, 0.05, 0.05, -0.20, -0.10, -0.03, -0.02, -0.02, -0.02, -0.02,
           -0.01, 0.00, 0.00, 0.00, 0.00, 0.00, 0.00, 0.00, 0.00, 0.00,
           0.00, 0.02, 0.00, 0.00]
TR_SD = [0.0, 0.10, 0.0, 0.15, 0.08, 0.06, 0.05, 0.05, 0.05, 0.05,
         0.05, 0.06, 0.06, 0.08, 0.08, 0.10, 0.12, 0.20, 0.30, 0.30,
         0.25, 0.18, 0.12, 0.08]

# ---------------- middle-right (z = 1.0)
MR_LINES = [
    [-0.02, -0.03, -0.03, -0.22, -0.18, -0.12, -0.08, -0.06, -0.04, -0.03,
     -0.02, -0.02, -0.02, -0.01, -0.02, 0.00, -0.02, 0.00, -0.01, 0.02,
     0.00, 0.02, 0.00, 0.03, 0.05, 0.04, 0.06, 0.08, 0.10, 0.08,
     0.10, 0.12, 0.08, 0.05, 0.02, 0.00, -0.05, -0.08, -0.05, 0.00,
     0.02, 0.00, -0.02, 0.00, 0.02, 0.00],
    [0.00, -0.01, -0.01, -0.15, -0.12, -0.08, -0.05, -0.03, -0.02, -0.02,
     -0.01, 0.00, -0.01, 0.00, 0.02, -0.02, 0.03, -0.02, 0.02, 0.00,
     0.03, 0.05, 0.02, 0.05, 0.08, 0.10, 0.12, 0.15, 0.18, 0.20,
     0.22, 0.25, 0.22, 0.20, 0.25, 0.28, 0.22, 0.18, 0.15, 0.10,
     0.08, 0.05, 0.03, 0.02, 0.00, 0.00],
    [0.03, 0.03, 0.03, -0.08, -0.06, -0.04, -0.02, -0.01, -0.01, 0.00,
     0.00, 0.00, 0.01, 0.00, -0.02, -0.05, 0.00, -0.04, -0.02, -0.05,
     -0.03, -0.06, -0.05, -0.08, -0.10, -0.08, -0.12, -0.15, -0.18, -0.20,
     -0.25, -0.30, -0.35, -0.45, -0.55, -0.50, -0.45, -0.40, -0.35, -0.30,
     -0.25, -0.20, -0.15, -0.12, -0.10, -0.08],
    [0.06, 0.06, 0.05, -0.04, -0.03, -0.01, 0.00, 0.01, 0.01, 0.01,
     0.02, 0.02, 0.02, 0.03, 0.01, 0.05, 0.00, 0.04, 0.02, 0.05,
     0.02, 0.00, -0.02, -0.05, -0.05, -0.08, -0.10, -0.12, -0.15, -0.18,
     -0.20, -0.22, -0.25, -0.28, -0.30, -0.28, -0.25, -0.22, -0.20, -0.18,
     -0.15, -0.12, -0.10, -0.08, -0.06, -0.05],
    [0.08, 0.08, 0.07, 0.00, 0.01, 0.02, 0.03, 0.03, 0.04, 0.04,
     0.04, 0.05, 0.05, 0.05, 0.04, 0.02, 0.06, 0.03, 0.05, 0.02,
     0.05, 0.08, 0.06, 0.08, 0.10, 0.12, 0.12, 0.15, 0.18, 0.20,
     0.22, 0.25, 0.28, 0.32, 0.35, 0.38, 0.35, 0.30, 0.25, 0.20,
     0.15, 0.12, 0.10, 0.08, 0.05, 0.05],
    [0.11, 0.11, 0.10, 0.03, 0.04, 0.05, 0.06, 0.06, 0.07, 0.07,
     0.08, 0.08, 0.09, 0.10, 0.08, 0.05, 0.10, 0.06, 0.08, 0.05,
     0.08, 0.10, 0.12, 0.15, 0.18, 0.20, 0.22, 0.25, 0.28, 0.30,
     0.35, 0.40, 0.45, 0.50, 0.55, 0.60, 0.62, 0.60, 0.55, 0.50,
     0.45, 0.40, 0.35, 0.30, 0.25, 0.20],
    [0.15, 0.15, 0.15, 0.06, 0.07, 0.08, 0.09, 0.10, 0.10, 0.11,
     0.12, 0.12, 0.13, 0.14, 0.12, 0.10, 0.15, 0.10, 0.12, 0.08,
     0.10, 0.08, 0.10, 0.12, 0.10, 0.08, 0.10, 0.12, 0.15, 0.12,
     0.10, 0.08, 0.05, 0.02, 0.00, -0.02, 0.00, 0.02, 0.05, 0.08,
     0.10, 0.12, 0.10, 0.08, 0.05, 0.05],
    [0.22, 0.22, 0.22, 0.08, 0.08, 0.09, 0.10, 0.12, 0.12, 0.13,
     0.14, 0.15, 0.15, 0.12, 0.10, 0.05, 0.00, -0.05, -0.02, -0.08,
     -0.05, -0.10, -0.08, -0.10, -0.15, -0.12, -0.15, -0.12, -0.10, -0.05,
     0.05, 0.20, 0.35, 0.45, 0.55, 0.70, 0.90, 0.75, 0.60, 0.50,
     0.40, 0.30, 0.20, 0.15, 0.10, 0.05],
    [0.30, 0.32, 0.35, 0.05, 0.05, 0.08, 0.12, 0.18, 0.22, 0.25,
     0.28, 0.22, 0.30, 0.25, 0.20, 0.15, 0.10, 0.05, 0.08, 0.00,
     0.05, 0.00, -0.05, -0.02, -0.05, -0.08, -0.10, -0.12, -0.15, -0.18,
     -0.22, -0.25, -0.30, -0.35, -0.40, -0.45, -0.50, -0.45, -0.40, -0.35,
     -0.30, -0.28, -0.25, -0.20, -0.15, -0.12],
    [0.25, 0.26, 0.45, 0.10, 0.12, 0.15, 0.20, 0.25, 0.30, 0.25,
     0.20, 0.15, 0.10, 0.08, 0.05, 0.12, 0.20, 0.30, 0.25, 0.40,
     0.30, 0.45, 0.20, 0.35, 0.25, 0.40, 0.30, 0.45, 0.35, 0.50,
     0.55, 0.65, 0.70, 0.80, 0.75, 0.90, 0.80, 0.70, 0.55, 0.45,
     0.30, 0.20, 0.15, 0.25, 0.30, 0.35],
]
MR_EXTRA = [
    [0.01, 0.00, 0.00, -0.18, -0.14, -0.10, -0.07, -0.05, -0.03, -0.02,
     -0.03, -0.01, -0.02, 0.00, -0.03, 0.02, -0.04, 0.03, -0.02, 0.04,
     -0.02, 0.03, -0.04, 0.02, -0.05, 0.00, -0.06, -0.02, -0.08, -0.04,
     -0.10, -0.06, -0.14, -0.10, -0.20, -0.15, -0.25, -0.18, -0.20, -0.12,
     -0.15, -0.08, -0.10, -0.05, -0.06, -0.03],
    [0.05, 0.05, 0.04, -0.10, -0.08, -0.06, -0.03, -0.02, 0.00, -0.01,
     0.01, 0.00, 0.02, 0.01, 0.03, -0.01, 0.04, 0.00, 0.05, 0.01,
     0.04, 0.08, 0.03, 0.07, 0.02, 0.08, 0.04, 0.10, 0.06, 0.12,
     0.08, 0.14, 0.10, 0.18, 0.12, 0.20, 0.15, 0.18, 0.10, 0.14,
     0.06, 0.10, 0.04, 0.06, 0.02, 0.04],
    [0.08, 0.08, 0.08, -0.02, 0.00, 0.02, 0.02, 0.03, 0.02, 0.04,
     0.03, 0.05, 0.03, 0.06, 0.02, 0.07, 0.01, 0.06, 0.00, 0.05,
     0.00, 0.04, -0.02, 0.02, -0.04, 0.00, -0.06, -0.02, -0.08, -0.04,
     -0.10, -0.06, -0.14, -0.10, -0.18, -0.12, -0.15, -0.10, -0.12, -0.06,
     -0.08, -0.04, -0.05, -0.02, -0.03, 0.00],
    [0.13, 0.13, 0.12, 0.04, 0.06, 0.06, 0.08, 0.07, 0.09, 0.08,
     0.10, 0.08, 0.11, 0.09, 0.13, 0.07, 0.15, 0.09, 0.12, 0.06,
     0.10, 0.05, 0.12, 0.08, 0.15, 0.10, 0.18, 0.12, 0.20, 0.15,
     0.22, 0.18, 0.28, 0.22, 0.32, 0.25, 0.30, 0.22, 0.25, 0.18,
     0.20, 0.14, 0.16, 0.10, 0.12, 0.08],
    [0.19, 0.19, 0.19, 0.07, 0.08, 0.10, 0.10, 0.12, 0.12, 0.13,
     0.14, 0.12, 0.15, 0.13, 0.16, 0.10, 0.20, 0.12, 0.18, 0.08,
     0.14, 0.06, 0.12, 0.05, 0.10, 0.03, 0.08, 0.00, 0.05, -0.03,
     0.02, -0.05, 0.00, -0.10, -0.05, -0.14, -0.08, -0.16, -0.10, -0.12,
     -0.06, -0.10, -0.04, -0.06, -0.02, -0.04],
    [0.26, 0.27, 0.30, 0.08, 0.10, 0.14, 0.18, 0.22, 0.25, 0.22,
     0.20, 0.25, 0.18, 0.22, 0.15, 0.20, 0.10, 0.15, 0.05, 0.10,
     0.02, 0.08, -0.02, 0.05, -0.05, 0.00, -0.08, -0.04, -0.12, -0.08,
     -0.15, -0.10, -0.20, -0.15, -0.25, -0.20, -0.30, -0.25, -0.30, -0.22,
     -0.25, -0.18, -0.20, -0.15, -0.12, -0.10],
]
MR_GREEN_K = [0.006, 0.0099, 0.0101, 0.02, 0.04, 0.07, 0.1, 0.15, 0.3, 1.0, 3.0, 10.0, 21.0]
MR_GREEN = [-0.60, -0.58, -0.83, -0.60, -0.35, -0.10, -0.02, 0.00, 0.05, 0.10, 0.20, 0.10, 0.05]
MR_DRED_K = [0.006, 0.0099, 0.0101, 0.02, 0.04, 0.05, 0.055, 0.06, 0.065, 0.07,
             0.08, 0.09, 0.1, 0.11, 0.12, 0.13, 0.135, 0.145, 0.16, 0.175,
             0.19, 0.21, 0.23, 0.26, 0.3, 0.4, 0.6, 1.0, 1.5, 2.2,
             3.0, 3.6, 4.3, 5.0, 5.8, 6.6, 7.5, 8.5, 10.0, 12.0,
             14.0, 17.0, 21.0]
MR_DRED = [0.05, 0.05, 0.00, 0.00, 0.00, -0.05, -0.30, -0.10, -0.35, -0.15,
           -0.05, -0.25, 0.10, 0.40, 0.30, 0.60, 1.00, 0.60, 0.70, 0.45,
           0.55, 0.20, 0.10, 0.05, 0.00, 0.05, 0.00, -0.05, -0.10, -0.20,
           -0.30, -0.45, -0.35, -0.60, -0.40, -0.80, -0.50, -0.65, -0.40, -0.50,
           -0.30, -0.50, -0.35]
MR_MEAN = [0.07, 0.07, 0.07, -0.20, -0.10, -0.03, -0.02, -0.02, -0.01, -0.01,
           0.00, 0.00, 0.00, 0.00, 0.00, 0.00, 0.00, 0.00, 0.00, 0.00,
           0.00, 0.00, 0.00, 0.00]
MR_SD = [0.0, 0.10, 0.0, 0.12, 0.08, 0.06, 0.05, 0.05, 0.05, 0.05,
         0.06, 0.06, 0.06, 0.08, 0.08, 0.10, 0.12, 0.18, 0.25, 0.30,
         0.30, 0.25, 0.15, 0.10]

# ---------------- bottom-right (z = 0.0)
BR_LINES = [
    [-0.05, -0.06, -0.08, 0.05, 0.00, -0.08, -0.15, -0.25, -0.35, -0.30,
     -0.20, -0.12, -0.08, -0.05, 0.00, 0.02, 0.00, 0.03, 0.05, 0.02,
     0.05, 0.08, 0.06, 0.08, 0.10, 0.12, 0.10, 0.08, 0.12, 0.15,
     0.18, 0.15, 0.12, 0.10, 0.08, 0.05, 0.02, 0.00, -0.02, 0.00,
     0.02, 0.00, -0.02, 0.00, 0.02, 0.00],
    [0.00, -0.01, -0.02, 0.02, 0.00, -0.03, -0.05, -0.05, -0.04, -0.03,
     -0.02, -0.01, 0.00, 0.00, 0.02, 0.00, 0.03, 0.00, 0.02, 0.05,
     0.08, 0.10, 0.12, 0.15, 0.18, 0.20, 0.22, 0.25, 0.28, 0.30,
     0.35, 0.40, 0.42, 0.45, 0.48, 0.50, 0.52, 0.50, 0.48, 0.50,
     0.48, 0.45, 0.42, 0.40, 0.38, 0.35],
    [0.05, 0.05, 0.04, -0.05, -0.04, -0.02, -0.01, 0.00, 0.00, 0.01,
     0.01, 0.02, 0.02, 0.03, 0.02, 0.00, -0.02, 0.00, -0.03, 0.00,
     -0.02, -0.05, -0.08, -0.10, -0.12, -0.15, -0.18, -0.20, -0.22, -0.25,
     -0.28, -0.32, -0.38, -0.45, -0.55, -0.60, -0.55, -0.50, -0.45, -0.40,
     -0.35, -0.30, -0.28, -0.25, -0.22, -0.20],
    [0.10, 0.10, 0.10, -0.15, -0.10, -0.05, -0.02, 0.00, 0.01, 0.02,
     0.03, 0.03, 0.02, 0.02, 0.03, 0.00, 0.05, 0.02, 0.00, 0.03,
     0.00, -0.02, -0.05, -0.08, -0.12, -0.15, -0.20, -0.25, -0.30, -0.35,
     -0.40, -0.45, -0.50, -0.55, -0.58, -0.62, -0.65, -0.70, -0.72, -0.75,
     -0.78, -0.80, -0.82, -0.80, -0.78, -0.75],
    [0.20, 0.20, 0.20, -0.25, -0.18, -0.10, -0.05, -0.02, 0.00, 0.02,
     0.03, 0.04, 0.05, 0.06, 0.05, 0.08, 0.05, 0.10, 0.08, 0.10,
     0.12, 0.15, 0.18, 0.20, 0.22, 0.25, 0.28, 0.30, 0.35, 0.40,
     0.42, 0.45, 0.50, 0.55, 0.58, 0.60, 0.62, 0.65, 0.68, 0.70,
     0.68, 0.65, 0.62, 0.60, 0.55, 0.50],
    [0.25, 0.25, 0.25, -0.10, 0.10, 0.25, 0.35, 0.40, 0.42, 0.38,
     0.35, 0.30, 0.25, 0.20, 0.10, 0.05, 0.08, 0.02, 0.05, 0.00,
     0.05, 0.08, 0.10, 0.15, 0.18, 0.20, 0.25, 0.30, 0.35, 0.40,
     0.45, 0.50, 0.55, 0.60, 0.65, 0.70, 0.75, 0.78, 0.80, 0.82,
     0.85, 0.88, 0.85, 0.80, 0.75, 0.70],
    [0.30, 0.32, 0.35, -0.40, -0.28, -0.15, -0.08, -0.03, 0.00, 0.02,
     0.03, 0.04, 0.05, 0.06, 0.05, 0.10, 0.05, 0.12, 0.08, 0.10,
     0.05, 0.00, -0.05, -0.08, -0.10, -0.12, -0.15, -0.18, -0.20, -0.25,
     -0.30, -0.35, -0.40, -0.45, -0.50, -0.55, -0.58, -0.60, -0.58, -0.55,
     -0.50, -0.45, -0.40, -0.35, -0.30, -0.25],
    [0.35, 0.40, 0.50, -0.55, -0.40, -0.25, -0.12, -0.05, -0.02, 0.00,
     0.02, 0.03, 0.05, 0.06, 0.05, 0.08, 0.05, 0.10, 0.05, 0.08,
     0.10, 0.08, 0.12, 0.15, 0.18, 0.20, 0.22, 0.25, 0.28, 0.30,
     0.32, 0.35, 0.40, 0.45, 0.55, 0.80, 1.20, 1.35, 1.55, 1.45,
     1.50, 1.55, 1.40, 1.25, 1.10, 0.95],
    [0.50, 0.55, 0.62, -0.75, -0.55, -0.35, -0.20, -0.12, -0.10, -0.15,
     -0.20, -0.30, -0.25, -0.15, -0.05, -0.10, 0.00, -0.05, 0.00, -0.10,
     -0.05, -0.10, -0.15, -0.20, -0.25, -0.35, -0.45, -0.55, -0.70, -0.85,
     -0.95, -1.05, -1.10, -1.05, -1.00, -0.95, -0.85, -0.80, -0.75, -0.78,
     -0.80, -0.75, -0.72, -0.70, -0.68, -0.65],
    [0.45, 0.50, 0.58, -0.90, -0.65, -0.40, -0.22, -0.12, -0.08, -0.05,
     -0.02, 0.00, 0.05, 0.10, 0.35, 0.60, 0.45, 0.70, 0.40, 0.55,
     0.30, 0.65, 0.40, 0.50, 0.70, 0.85, 0.60, 0.80, 0.90, 0.75,
     0.50, 0.35, 0.25, 0.20, 0.15, 0.10, 0.05, 0.00, -0.05, 0.00,
     0.05, 0.10, 0.05, 0.00, 0.05, 0.10],
]
BR_EXTRA = [
    [0.00, -0.02, -0.03, 0.05, 0.02, -0.04, -0.08, -0.12, -0.15, -0.12,
     -0.10, -0.06, -0.08, -0.02, -0.04, 0.02, -0.03, 0.04, 0.00, 0.06,
     0.02, 0.08, 0.04, 0.10, 0.06, 0.12, 0.08, 0.15, 0.10, 0.18,
     0.15, 0.22, 0.18, 0.25, 0.20, 0.28, 0.22, 0.30, 0.25, 0.28,
     0.22, 0.25, 0.20, 0.22, 0.18, 0.15],
    [0.06, 0.05, 0.06, -0.08, -0.06, -0.04, -0.02, -0.01, 0.01, 0.00,
     0.02, 0.01, 0.03, 0.02, 0.04, 0.00, 0.05, -0.02, 0.04, -0.03,
     0.00, -0.05, -0.02, -0.08, -0.05, -0.10, -0.06, -0.12, -0.08, -0.15,
     -0.10, -0.18, -0.14, -0.22, -0.18, -0.28, -0.22, -0.30, -0.25, -0.30,
     -0.25, -0.28, -0.22, -0.25, -0.20, -0.22],
    [0.15, 0.15, 0.15, -0.18, -0.12, -0.07, -0.03, -0.01, 0.01, 0.02,
     0.03, 0.02, 0.04, 0.03, 0.06, 0.02, 0.08, 0.03, 0.06, 0.02,
     0.05, 0.02, 0.06, 0.03, 0.08, 0.05, 0.10, 0.06, 0.12, 0.08,
     0.14, 0.10, 0.16, 0.12, 0.18, 0.14, 0.20, 0.15, 0.18, 0.12,
     0.15, 0.10, 0.12, 0.08, 0.10, 0.06],
    [0.22, 0.24, 0.28, -0.35, -0.25, -0.13, -0.06, -0.02, 0.00, 0.01,
     0.02, 0.03, 0.04, 0.03, 0.06, 0.02, 0.08, 0.00, 0.05, -0.02,
     0.03, -0.04, 0.00, -0.06, -0.02, -0.08, -0.04, -0.10, -0.06, -0.12,
     -0.10, -0.15, -0.12, -0.18, -0.15, -0.22, -0.18, -0.25, -0.20, -0.22,
     -0.18, -0.20, -0.15, -0.18, -0.12, -0.15],
    [0.30, 0.35, 0.42, -0.50, -0.36, -0.22, -0.11, -0.05, -0.02, 0.00,
     0.02, 0.01, 0.04, 0.05, 0.08, 0.03, 0.12, 0.05, 0.10, 0.02,
     0.08, 0.03, 0.10, 0.05, 0.12, 0.06, 0.15, 0.08, 0.18, 0.10,
     0.22, 0.15, 0.25, 0.18, 0.22, 0.15, 0.20, 0.12, 0.18, 0.10,
     0.15, 0.08, 0.12, 0.05, 0.08, 0.04],
    [0.40, 0.48, 0.55, -0.65, -0.48, -0.30, -0.18, -0.10, -0.08, -0.12,
     -0.15, -0.22, -0.18, -0.10, 0.05, 0.25, 0.10, 0.35, 0.15, 0.30,
     0.05, 0.20, 0.00, 0.10, -0.05, 0.02, -0.10, -0.05, -0.15, -0.10,
     -0.20, -0.15, -0.25, -0.20, -0.30, -0.25, -0.35, -0.28, -0.35, -0.30,
     -0.32, -0.25, -0.28, -0.22, -0.25, -0.20],
]
BR_GREEN_K = [0.006, 0.0099, 0.0101, 0.02, 0.04, 0.07, 0.1, 0.3, 1.0, 3.0, 10.0, 21.0]
BR_GREEN = [-0.40, -0.35, -0.58, -0.45, -0.25, -0.10, -0.02, 0.05, 0.10, 0.15, 0.10, 0.05]
BR_DRED_K = [0.006, 0.0099, 0.0101, 0.02, 0.04, 0.05, 0.06, 0.065, 0.07, 0.075,
             0.085, 0.1, 0.2, 0.5, 1.0, 2.0, 3.0, 5.0, 8.0, 12.0,
             15.0, 18.0, 21.0]
BR_DRED = [0.40, 0.55, 0.30, 0.00, -0.05, -0.10, -0.40, -0.70, -0.50, -0.60,
           -0.30, 0.00, 0.05, 0.00, 0.10, 0.15, 0.20, 0.25, 0.30, 0.40,
           0.55, 0.60, 0.62]
BR_MEAN = [0.08, 0.08, 0.10, -0.25, -0.10, -0.03, -0.03, -0.03, -0.02, -0.02,
           0.00, 0.00, 0.00, 0.00, 0.00, 0.00, 0.00, 0.00, 0.00, 0.00,
           0.00, 0.00, 0.00, 0.00]
BR_SD = [0.0, 0.12, 0.0, 0.25, 0.10, 0.08, 0.06, 0.06, 0.06, 0.06,
         0.06, 0.08, 0.08, 0.08, 0.10, 0.12, 0.15, 0.25, 0.30, 0.40,
         0.45, 0.50, 0.45, 0.40]

MAPE = {"TL": "0.159", "ML": "0.141", "BL": "0.190",
        "TR": "0.131", "MR": "0.127", "BR": "0.179"}
Z_LABELS = {"TR": "3.0", "MR": "1.0", "BR": "0.0"}

# tick positions / labels
X_TICKS = [0.01, 0.1, 1, 10]
X_TICKTEXT = ["10<sup>\u22122</sup>", "10<sup>\u22121</sup>", "10<sup>0</sup>", "10<sup>1</sup>"]
X_MINOR = [0.006, 0.007, 0.008, 0.009, 0.02, 0.03, 0.04, 0.05, 0.06, 0.07, 0.08, 0.09,
           0.2, 0.3, 0.4, 0.5, 0.6, 0.7, 0.8, 0.9, 2, 3, 4, 5, 6, 7, 8, 9, 20, 30]
Y_TICKS = [-2, 0, 2]

# ------------------------------------------------------------------ style
JET = ["#00008f", "#0000ff", "#0070ff", "#00c8ff", "#40ffc0",
       "#a0ff60", "#ffe000", "#ffa000", "#ff5a00", "#e81000"]
JET_EXTRA = ["#0020c0", "#0090ff", "#30ffd0", "#d0ff30", "#ffc000", "#ff7000"]
GREEN = "#80ff80"
DRED = "#a00000"
SERIF = "Liberation Serif"
TEXTFONT = "DejaVu Serif"
LW = 1.3

W_PX, H_PX = 1016, 682
ML_PX, MT_PX, MB_PX = 129, 5, 65
PLOT_W = W_PX - ML_PX
PLOT_H = H_PX - MT_PX - MB_PX
LEFT_W = 448

X_DOM = {1: [0, LEFT_W / PLOT_W], 2: [LEFT_W / PLOT_W, 1]}
Y_DOM = {1: [2 / 3, 1], 2: [1 / 3, 2 / 3], 3: [0, 1 / 3]}
X_RANGE = {1: [-2.228, 1.305], 2: [-2.222, 1.240]}
Y_RANGE = [-3.3, 3.3]

panels = [
    ("TL", 1, 1, TL_LINES, TL_EXTRA, TL_GREEN_K, TL_GREEN, TL_DRED_K, TL_DRED, TL_MEAN, TL_SD),
    ("TR", 1, 2, TR_LINES, TR_EXTRA, TR_GREEN_K, TR_GREEN, TR_DRED_K, TR_DRED, TR_MEAN, TR_SD),
    ("ML", 2, 1, ML_LINES, ML_EXTRA, ML_GREEN_K, ML_GREEN, ML_DRED_K, ML_DRED, ML_MEAN, ML_SD),
    ("MR", 2, 2, MR_LINES, MR_EXTRA, MR_GREEN_K, MR_GREEN, MR_DRED_K, MR_DRED, MR_MEAN, MR_SD),
    ("BL", 3, 1, BL_LINES, BL_EXTRA, BL_GREEN_K, BL_GREEN, BL_DRED_K, BL_DRED, BL_MEAN, BL_SD),
    ("BR", 3, 2, BR_LINES, BR_EXTRA, BR_GREEN_K, BR_GREEN, BR_DRED_K, BR_DRED, BR_MEAN, BR_SD),
]

fig = go.Figure()
layout = dict(
    width=W_PX, height=H_PX,
    margin=dict(l=ML_PX, r=0, t=MT_PX, b=MB_PX, pad=0),
    paper_bgcolor="white", plot_bgcolor="white",
    showlegend=False,
    font=dict(family=SERIF, size=22, color="black"),
)
shapes = []
annotations = []

for name, row, col, lines, extra, gk, gv, dk, dv, mean, sd in panels:
    idx = (row - 1) * 2 + col
    sfx = "" if idx == 1 else str(idx)
    xa, ya = "x" + sfx, "y" + sfx

    for vals, colr in zip(extra, JET_EXTRA):
        fig.add_trace(go.Scatter(x=K, y=vals, mode="lines", xaxis=xa, yaxis=ya,
                                 line=dict(color=colr, width=LW), hoverinfo="skip"))
    for vals, colr in zip(lines, JET):
        fig.add_trace(go.Scatter(x=K, y=vals, mode="lines", xaxis=xa, yaxis=ya,
                                 line=dict(color=colr, width=LW), hoverinfo="skip"))
    fig.add_trace(go.Scatter(x=gk, y=gv, mode="lines", xaxis=xa, yaxis=ya,
                             line=dict(color=GREEN, width=LW), hoverinfo="skip"))
    fig.add_trace(go.Scatter(x=dk, y=dv, mode="lines", xaxis=xa, yaxis=ya,
                             line=dict(color=DRED, width=LW), hoverinfo="skip"))
    # dashed k cut
    fig.add_trace(go.Scatter(x=[K_CUT, K_CUT], y=Y_RANGE, mode="lines", xaxis=xa, yaxis=ya,
                             line=dict(color="#aaaaaa", width=2.5, dash="dash"), hoverinfo="skip"))
    # mean with error bars
    fig.add_trace(go.Scatter(x=MEAN_K, y=mean, mode="lines", xaxis=xa, yaxis=ya,
                             line=dict(color="black", width=2.6),
                             error_y=dict(type="data", array=sd, visible=True,
                                          color="black", thickness=2.2, width=0),
                             hoverinfo="skip"))

    # shaded +-2 and +-1 per cent bands
    shapes.append(dict(type="rect", xref=xa + " domain", yref=ya, x0=0, x1=1, y0=-2, y1=2,
                       fillcolor="#d9d9d9", line=dict(width=0), layer="below"))
    shapes.append(dict(type="rect", xref=xa + " domain", yref=ya, x0=0, x1=1, y0=-1, y1=1,
                       fillcolor="#bfbfbf", line=dict(width=0), layer="below"))

    bottom = row == 3
    layout["xaxis" + sfx] = dict(
        type="log", range=X_RANGE[col], domain=X_DOM[col], anchor=ya,
        tickmode="array", tickvals=X_TICKS, ticktext=X_TICKTEXT,
        showticklabels=bottom, tickfont=dict(family=SERIF, size=23, color="black"),
        ticks="inside", ticklen=7, tickwidth=1, tickcolor="black",
        minor=dict(tickmode="array", tickvals=X_MINOR, ticks="inside", ticklen=3.5,
                   tickwidth=1, tickcolor="black", showgrid=False),
        showline=True, linecolor="black", linewidth=1.2, mirror="allticks",
        showgrid=True, gridcolor="#d3d3d3", gridwidth=1,
        zeroline=False,
    )
    layout["yaxis" + sfx] = dict(
        range=Y_RANGE, domain=Y_DOM[row], anchor=xa,
        tickmode="array", tickvals=Y_TICKS,
        showticklabels=(col == 1), tickfont=dict(family=SERIF, size=23, color="black"),
        ticks="inside", ticklen=7, tickwidth=1, tickcolor="black",
        showline=True, linecolor="black", linewidth=1.2, mirror="allticks",
        showgrid=False, zeroline=False,
    )

    rx = 0.988 if col == 1 else 1.007
    annotations.append(dict(
        xref=xa + " domain", yref=ya + " domain", x=rx, y=0.105,
        xanchor="right", yanchor="middle", showarrow=False,
        text='<span style="text-decoration:overline">MAPE</span> = ' + MAPE[name] + "%",
        font=dict(family=SERIF, size=23, color="black")))
    if col == 2:
        annotations.append(dict(
            xref=xa + " domain", yref=ya + " domain", x=0.965, y=0.89,
            xanchor="right", yanchor="middle", showarrow=False,
            text="<i>z</i> = " + Z_LABELS[name],
            font=dict(family=SERIF, size=22, color="black")))
    if row == 1:
        annotations.append(dict(
            xref=xa + " domain", yref=ya + " domain", x=0.053, y=0.882,
            xanchor="left", yanchor="middle", showarrow=False,
            text="DE2 input : 9D parameters",
            font=dict(family=TEXTFONT, size=19.6, color="black")))
    if row == 1 and col == 2:
        annotations.append(dict(
            xref=xa + " domain", yref=ya + " domain", x=0.583, y=0.77,
            xanchor="center", yanchor="middle", showarrow=False,
            text="linear power spectrum",
            font=dict(family=TEXTFONT, size=19.8, color="black")))

# axis titles
annotations.append(dict(
    xref="paper", yref="paper", x=(545 - ML_PX) / PLOT_W, y=(MT_PX + PLOT_H - 665) / PLOT_H,
    xanchor="center", yanchor="middle", showarrow=False,
    text="<i>k</i> [<i>h</i> Mpc<sup>\u22121</sup>]",
    font=dict(family=SERIF, size=22, color="black")))
annotations.append(dict(
    xref="paper", yref="paper", x=(46 - ML_PX) / PLOT_W, y=0.5,
    xanchor="center", yanchor="middle", showarrow=False, textangle=-90,
    text="100 \u00d7 (<i>P</i><sub>DE2</sub>(<i>k</i>) / <i>P</i><sub>sim</sub>(<i>k</i>) \u2212 1)",
    font=dict(family=SERIF, size=20, color="black")))

layout["shapes"] = shapes
layout["annotations"] = annotations
fig.update_layout(**layout)
fig.write_html("out.html")
